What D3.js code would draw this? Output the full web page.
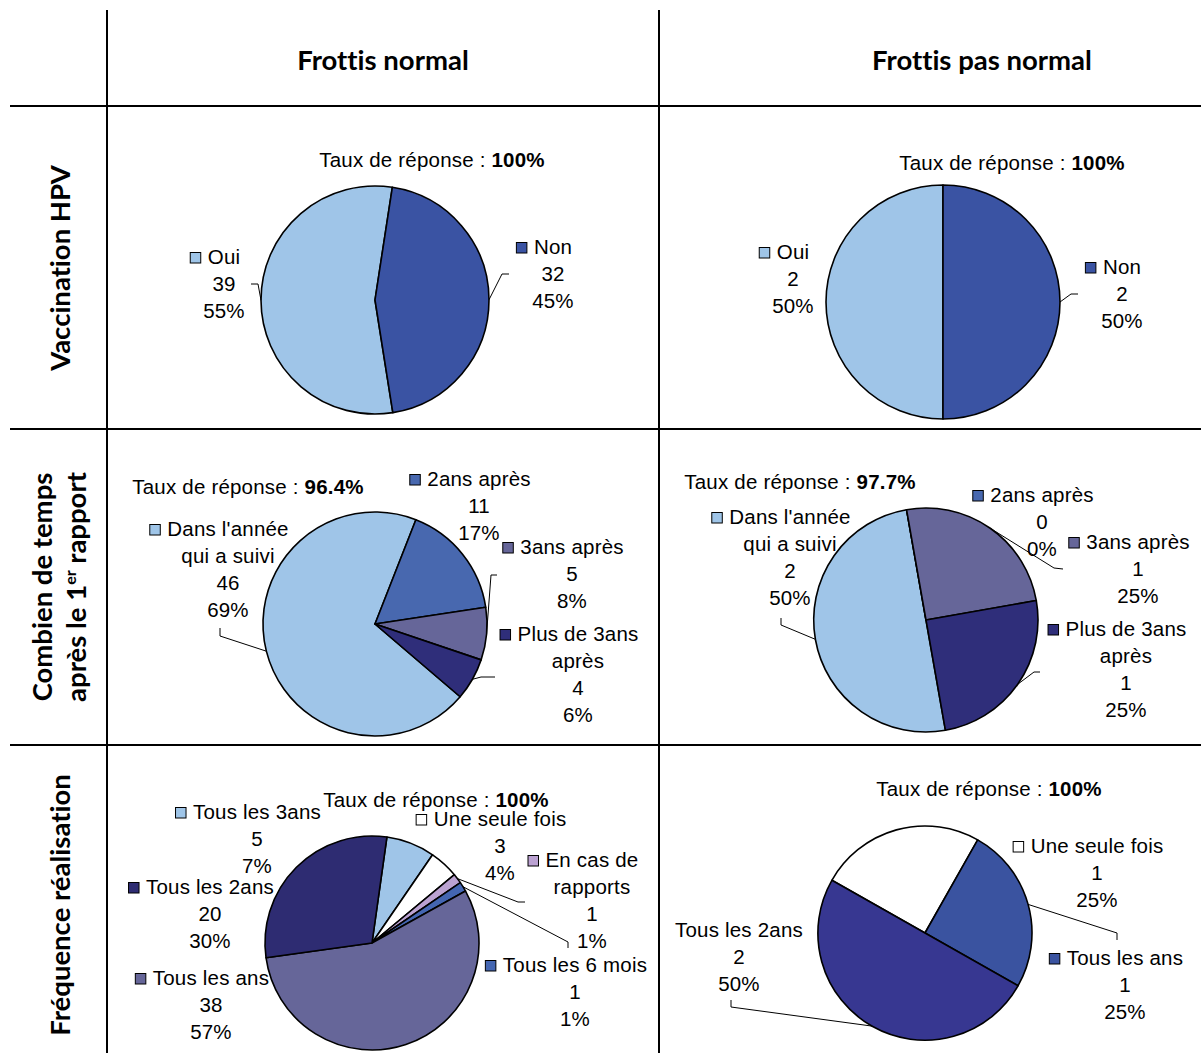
<!DOCTYPE html>
<html><head><meta charset="utf-8">
<script src="https://cdn.jsdelivr.net/npm/d3@7"></script>
<style>body{margin:0;background:#fff} svg{display:block} text{font-variant-ligatures:none}</style>
</head><body>
<svg id="c" width="1201" height="1053"></svg>
<script>
// ---------------- data ----------------
const colHeaders = ["Frottis normal", "Frottis pas normal"];
const rowHeaders = ["Vaccination HPV", "Combien de temps", "après le 1", "er", " rapport", "Fréquence réalisation"];

const vaccinCats = ["Oui", "Non"];
const vaccinNormal = [39, 32];
const vaccinNormalPct = ["55%", "45%"];
const vaccinAnormal = [2, 2];
const vaccinAnormalPct = ["50%", "50%"];

const delaiCats = ["Dans l'année\nqui a suivi", "2ans après", "3ans après", "Plus de 3ans\naprès"];
const delaiNormal = [46, 11, 5, 4];
const delaiNormalPct = ["69%", "17%", "8%", "6%"];
const delaiAnormal = [2, 0, 1, 1];
const delaiAnormalPct = ["50%", "0%", "25%", "25%"];

const freqNormalCats = ["Tous les 3ans", "Une seule fois", "En cas de\nrapports", "Tous les 6 mois", "Tous les ans", "Tous les 2ans"];
const freqNormal = [5, 3, 1, 1, 38, 20];
const freqNormalPct = ["7%", "4%", "1%", "1%", "57%", "30%"];
const freqAnormalCats = ["Une seule fois", "Tous les ans", "Tous les 2ans"];
const freqAnormal = [1, 1, 2];
const freqAnormalPct = ["25%", "25%", "50%"];

const responseLabel = "Taux de réponse : ";
const responseRates = ["100%", "100%", "96.4%", "97.7%", "100%", "100%"];

// ---------------- styles / layout ----------------
const C = {
  light: "#9fc5e8", non: "#3a53a3", blue2: "#4868af", grey: "#666699",
  navy: "#2f2e7a", navy2: "#2e2c72", lilac: "#bba2d2", blue6: "#4466b2",
  white: "#ffffff", navy6: "#373791", blueAns: "#3a53a0"
};

const pies = [
  { cats: vaccinCats, vals: vaccinNormal, pct: vaccinNormalPct, colors: [C.light, C.non],
    cx: 375, cy: 300, r: 114, start: 171, taux: [432, 160],
    labels: [ {x: 224, y: 257, leader: [[251, 284], [258, 284]]},
              {x: 553, y: 247, leader: [[509, 274], [502, 274]]} ] },
  { cats: vaccinCats, vals: vaccinAnormal, pct: vaccinAnormalPct, colors: [C.light, C.non],
    cx: 943, cy: 302, r: 117, start: 180, taux: [1012, 163],
    labels: [ {x: 793, y: 252},
              {x: 1122, y: 267, leader: [[1078, 294], [1071, 294]]} ] },
  { cats: delaiCats, vals: delaiNormal, pct: delaiNormalPct, colors: [C.light, C.blue2, C.grey, C.navy],
    cx: 375, cy: 624, r: 112, start: 130.5, taux: [248, 487],
    labels: [ {x: 228, y: 529, leader: [[220, 628], [220, 636]]},
              {x: 479, y: 479},
              {x: 572, y: 547, leader: [[497, 575], [491, 575]]},
              {x: 578, y: 634, leader: [[495, 677], [481, 677]]} ] },
  { cats: delaiCats, vals: delaiAnormal, pct: delaiAnormalPct, colors: [C.light, C.blue2, C.grey, C.navy],
    cx: 926, cy: 620, r: 112, start: 170, taux: [800, 482],
    labels: [ {x: 790, y: 517, leader: [[781, 618], [781, 625]]},
              {x: 1042, y: 495},
              {x: 1138, y: 542, leader: [[1063, 569], [1054, 568]]},
              {x: 1126, y: 629, leader: [[1040, 672], [1034, 672]]} ] },
  { cats: freqNormalCats, vals: freqNormal, pct: freqNormalPct,
    colors: [C.light, C.white, C.lilac, C.blue6, C.grey, C.navy2],
    cx: 372, cy: 943, r: 107, start: 8, taux: [436, 800],
    labels: [ {x: 257, y: 812},
              {x: 500, y: 819},
              {x: 592, y: 860, leader: [[525, 902], [518, 902]]},
              {x: 575, y: 965, leader: [[568, 948], [568, 942]]},
              {x: 211, y: 978},
              {x: 210, y: 887} ] },
  { cats: freqAnormalCats, vals: freqAnormal, pct: freqAnormalPct,
    colors: [C.white, C.blueAns, C.navy6],
    cx: 925, cy: 933, r: 107, start: 299.5, taux: [989, 789],
    labels: [ {x: 1097, y: 846},
              {x: 1125, y: 958, leader: [[1117, 940], [1117, 933]]},
              {x: 739, y: 930, nokey: true, leader: [[731, 1000], [731, 1007]]} ] }
];

const LH = 27;
const FS = 20.5;
const LS = 0.2;
const bodyFont = "'Liberation Sans', Arial, sans-serif";
const headFont = "Lato, 'Open Sans', sans-serif";
const headFS = 27.5;

const svg = d3.select("#c");

// ---------------- grid ----------------
const grid = svg.append("g").attr("stroke", "#000").attr("stroke-width", 2);
[[107, 10, 107, 1053], [659, 10, 659, 1053], [10, 106, 1201, 106], [10, 429, 1201, 429], [10, 745, 1201, 745]]
  .forEach(([x1, y1, x2, y2]) => grid.append("line").attr("x1", x1).attr("y1", y1).attr("x2", x2).attr("y2", y2));

// ---------------- headers ----------------
const hx = [383, 982];
colHeaders.forEach((t, i) => svg.append("text").attr("x", hx[i]).attr("y", 60).attr("dy", "0.35em")
  .attr("text-anchor", "middle").attr("font-family", headFont).attr("font-weight", 700)
  .attr("font-size", headFS).attr("fill", "#000").text(t));

function rowText(x, y) {
  return svg.append("text").attr("transform", `translate(${x},${y}) rotate(-90)`)
    .attr("dy", "0.35em").attr("text-anchor", "middle").attr("font-family", headFont)
    .attr("font-weight", 700).attr("font-size", headFS).attr("fill", "#000");
}
rowText(60, 268).text(rowHeaders[0]);
rowText(42, 587).text(rowHeaders[1]);
const t2 = rowText(76, 587);
t2.append("tspan").text(rowHeaders[2]);
t2.append("tspan").attr("font-size", 16).attr("dy", -10).text(rowHeaders[3]);
t2.append("tspan").attr("dy", 10).text(rowHeaders[4]);
rowText(60, 905).text(rowHeaders[5]);

// ---------------- pies ----------------
pies.forEach((p, pi) => {
  const s = p.start * Math.PI / 180;
  const arcsData = d3.pie().sort(null).value(d => d).startAngle(s).endAngle(s + 2 * Math.PI)(p.vals);
  const arc = d3.arc().innerRadius(0).outerRadius(p.r);
  const g = svg.append("g").attr("transform", `translate(${p.cx},${p.cy})`);
  g.selectAll("path").data(arcsData).join("path")
    .attr("d", arc).attr("fill", (d, i) => p.colors[i])
    .attr("stroke", "#000").attr("stroke-width", 1.6).attr("stroke-linejoin", "round");

  // response rate
  const tt = svg.append("text").attr("x", p.taux[0]).attr("y", p.taux[1]).attr("dy", "0.35em")
    .attr("text-anchor", "middle").attr("font-family", bodyFont).attr("font-size", FS)
    .attr("letter-spacing", LS).attr("fill", "#000");
  tt.append("tspan").text(responseLabel);
  tt.append("tspan").attr("font-weight", 700).text(responseRates[pi]);

  // labels
  p.labels.forEach((L, i) => {
    const a = arcsData[i];
    if (L.leader) {
      const mid = (a.startAngle + a.endAngle) / 2;
      const pt = [p.cx + p.r * Math.sin(mid), p.cy - p.r * Math.cos(mid)];
      svg.append("path").attr("d", d3.line()([L.leader[0], L.leader[1], pt]))
        .attr("fill", "none").attr("stroke", "#000").attr("stroke-width", 1);
    }
    const lines = p.cats[i].split("\n").concat([String(p.vals[i]), p.pct[i]]);
    let first = null;
    lines.forEach((t, k) => {
      const n = svg.append("text").attr("x", L.x).attr("y", L.y + k * LH).attr("dy", "0.35em")
        .attr("text-anchor", "middle").attr("font-family", bodyFont).attr("font-size", FS)
        .attr("letter-spacing", LS).attr("fill", "#000").text(t);
      if (k === 0) first = n;
    });
    if (!L.nokey) {
      const w = first.node().getComputedTextLength();
      svg.append("rect").attr("x", L.x - w / 2 - 7 - 10.5).attr("y", L.y - 4.5).attr("width", 10.5).attr("height", 10.5)
        .attr("fill", p.colors[i]).attr("stroke", "#000").attr("stroke-width", 1);
    }
  });
});
</script>
</body></html>
